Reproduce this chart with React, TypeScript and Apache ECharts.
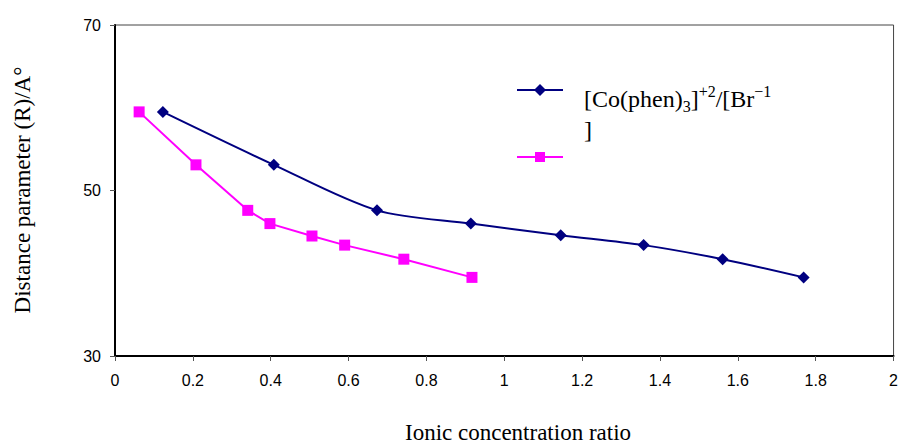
import React, { useEffect, useRef } from "react";
import * as echarts from "echarts";

const blueX = [0.123, 0.408, 0.673, 0.914, 1.145, 1.358, 1.561, 1.769];
const blueY = [59.5, 53.1, 47.6, 46.0, 44.6, 43.4, 41.7, 39.5];
const pinkX = [0.062, 0.208, 0.341, 0.398, 0.506, 0.59, 0.742, 0.917];
const pinkY = [59.5, 53.1, 47.6, 46.0, 44.5, 43.4, 41.7, 39.5];

const xTitle = "Ionic concentration ratio";
const yTitle = "Distance parameter (R)/A°";

const SERIF = "'Liberation Serif', 'Times New Roman', serif";
const SANS = "'Liberation Sans', Arial, sans-serif";

export default function App() {
  const ref = useRef<HTMLDivElement>(null);
  useEffect(() => {
    if (!ref.current) return;
    const chart = echarts.init(ref.current, null, { renderer: "svg" });
    const blue = blueX.map((x, i) => [x, blueY[i]]);
    const pink = pinkX.map((x, i) => [x, pinkY[i]]);
    chart.setOption({
      animation: false,
      backgroundColor: "#fff",
      grid: {
        left: 115,
        right: 7,
        top: 25,
        bottom: 90,
        show: true,
        borderColor: "#444",
        borderWidth: 1,
      },
      xAxis: {
        type: "value",
        min: 0,
        max: 2,
        interval: 0.2,
        axisLine: { show: true, lineStyle: { color: "#000", width: 2 } },
        axisTick: { show: true, length: 5, lineStyle: { color: "#555" } },
        splitLine: { show: false },
        axisLabel: {
          fontFamily: SANS,
          fontSize: 16,
          color: "#000",
          margin: 16,
          formatter: (v: number) => String(Math.round(v * 10) / 10),
        },
      },
      yAxis: {
        type: "value",
        min: 30,
        max: 70,
        interval: 20,
        axisLine: { show: true, lineStyle: { color: "#000", width: 2 } },
        axisTick: { show: true, length: 5, lineStyle: { color: "#555" } },
        splitLine: { show: false },
        axisLabel: { fontFamily: SANS, fontSize: 16, color: "#000", margin: 14 },
      },
      series: [
        {
          type: "line",
          data: blue,
          smooth: 0.3,
          symbol: "diamond",
          symbolSize: 12,
          itemStyle: { color: "#000080" },
          lineStyle: { color: "#000080", width: 2 },
        },
        {
          type: "line",
          data: pink,
          symbol: "rect",
          symbolSize: 11,
          itemStyle: { color: "#ff00ff" },
          lineStyle: { color: "#ff00ff", width: 2 },
        },
      ],
      graphic: [
        { type: "line", shape: { x1: 517, y1: 90, x2: 563, y2: 90 }, style: { stroke: "#000080", lineWidth: 2 } },
        { type: "polygon", shape: { points: [[540, 84], [546, 90], [540, 96], [534, 90]] }, style: { fill: "#000080" } },
        { type: "line", shape: { x1: 517, y1: 157, x2: 563, y2: 157 }, style: { stroke: "#ff00ff", lineWidth: 2 } },
        { type: "rect", shape: { x: 535, y: 152, width: 10, height: 10 }, style: { fill: "#ff00ff" } },
        {
          type: "text",
          x: 584,
          y: 83,
          style: {
            text: "{a|[Co(phen)}{sub|3}{a|]}{sup|+2}{a|/[Br}{sup|−1}\n{a|]}",
            fontFamily: SERIF,
            fill: "#000",
            rich: {
              a: { fontFamily: SERIF, fontSize: 24, lineHeight: 31, verticalAlign: "middle", fill: "#000" },
              sub: { fontFamily: SERIF, fontSize: 16, lineHeight: 31, verticalAlign: "bottom", fill: "#000" },
              sup: { fontFamily: SERIF, fontSize: 16, lineHeight: 31, verticalAlign: "top", fill: "#000" },
            },
          },
        },
        {
          type: "text",
          x: 518,
          y: 432,
          style: { text: xTitle, fontFamily: SERIF, fontSize: 23, fill: "#000", align: "center", verticalAlign: "middle" },
        },
        {
          type: "text",
          x: 22,
          y: 190,
          rotation: Math.PI / 2,
          style: { text: yTitle, fontFamily: SERIF, fontSize: 23, fill: "#000", align: "center", verticalAlign: "middle" },
        },
      ],
    });
    return () => chart.dispose();
  }, []);
  return <div ref={ref} style={{ width: 901, height: 446, position: "absolute", left: 0, top: 0 }} />;
}
